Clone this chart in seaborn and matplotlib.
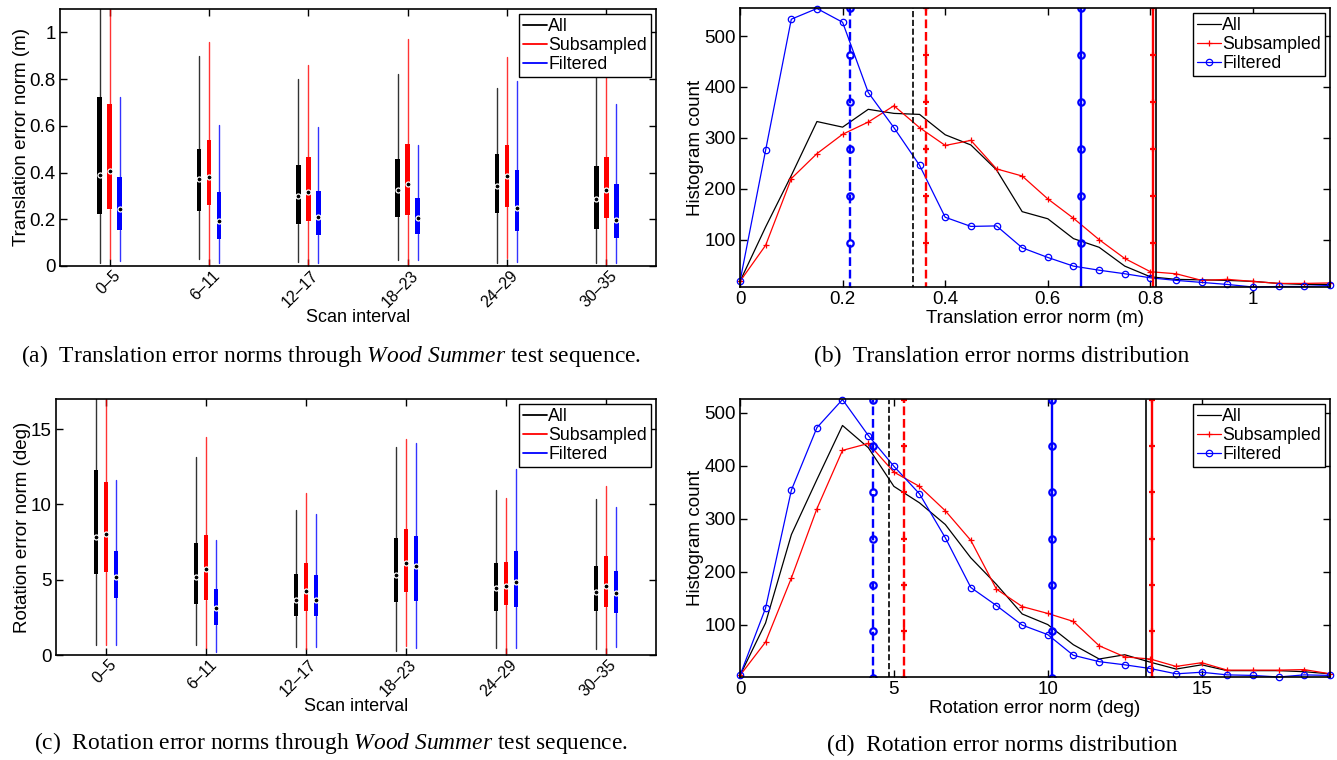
import numpy as np
import pandas as pd
import seaborn as sns
import matplotlib.pyplot as plt
from matplotlib.lines import Line2D
from matplotlib.transforms import ScaledTranslation

# categories
intervals = ['0–5', '6–11', '12–17', '18–23', '24–29', '30–35']
series = ['All', 'Subsampled', 'Filtered']
colors = {'All': '#000000', 'Subsampled': '#ff0000', 'Filtered': '#0000ff'}

# (a) translation error box stats: low whisker, q1, median, q3, high whisker
trans_all_lo = [0.012, 0.031, 0.019, 0.026, 0.011, 0.011]
trans_all_q1 = [0.222, 0.234, 0.180, 0.211, 0.228, 0.157]
trans_all_med = [0.390, 0.374, 0.300, 0.326, 0.344, 0.286]
trans_all_q3 = [0.723, 0.501, 0.433, 0.457, 0.480, 0.429]
trans_all_hi = [1.25, 0.897, 0.800, 0.820, 0.761, 0.860]

trans_sub_lo = [0.031, 0.003, 0.003, 0.003, 0.033, 0.003]
trans_sub_q1 = [0.243, 0.261, 0.194, 0.219, 0.254, 0.207]
trans_sub_med = [0.406, 0.380, 0.317, 0.353, 0.387, 0.324]
trans_sub_q3 = [0.693, 0.540, 0.466, 0.522, 0.517, 0.467]
trans_sub_hi = [1.25, 0.957, 0.860, 0.971, 0.894, 0.930]

trans_fil_lo = [0.023, 0.014, 0.012, 0.026, 0.019, 0.014]
trans_fil_q1 = [0.154, 0.117, 0.133, 0.136, 0.149, 0.119]
trans_fil_med = [0.244, 0.194, 0.210, 0.206, 0.249, 0.197]
trans_fil_q3 = [0.381, 0.317, 0.320, 0.290, 0.409, 0.349]
trans_fil_hi = [0.723, 0.604, 0.596, 0.519, 0.793, 0.693]

# (c) rotation error box stats
rot_all_lo = [0.66, 0.66, 0.51, 0.29, 0.48, 0.37]
rot_all_q1 = [5.41, 3.41, 2.57, 3.50, 2.95, 2.93]
rot_all_med = [7.85, 5.15, 3.63, 5.32, 4.44, 4.16]
rot_all_q3 = [12.27, 7.44, 5.41, 7.74, 6.14, 5.94]
rot_all_hi = [19.0, 13.15, 9.63, 13.79, 10.93, 10.38]

rot_sub_lo = [0.66, 0.44, 0.40, 0.59, 0.05, 0.05]
rot_sub_q1 = [5.50, 3.67, 2.95, 4.18, 3.32, 3.19]
rot_sub_med = [8.03, 5.72, 4.22, 6.09, 4.58, 4.55]
rot_sub_q3 = [11.50, 7.99, 6.09, 8.38, 6.20, 6.56]
rot_sub_hi = [19.0, 14.45, 10.76, 14.36, 10.40, 11.20]

rot_fil_lo = [0.66, 0.22, 0.51, 0.44, 0.48, 0.55]
rot_fil_q1 = [3.78, 2.02, 2.57, 3.59, 3.19, 2.79]
rot_fil_med = [5.19, 3.10, 3.63, 5.92, 4.88, 4.14]
rot_fil_q3 = [6.91, 4.36, 5.28, 7.88, 6.91, 5.61]
rot_fil_hi = [11.59, 7.66, 9.35, 14.06, 12.38, 9.83]

# (b) translation error histogram (bin centres in m)
trans_bins = [0.0, 0.05, 0.1, 0.15, 0.2, 0.25, 0.3, 0.35, 0.4, 0.45, 0.5, 0.55,
              0.6, 0.65, 0.7, 0.75, 0.8, 0.85, 0.9, 0.95, 1.0, 1.05, 1.1, 1.15]
trans_hist_all = [18, 125, 226, 332, 321, 356, 348, 346, 306, 286, 237, 155,
                  141, 102, 85, 48, 27, 22, 21, 20, 18, 14, 12, 12]
trans_hist_sub = [18, 89, 220, 269, 307, 331, 363, 320, 285, 295, 239, 225,
                  180, 142, 100, 63, 37, 33, 20, 22, 18, 14, 14, 15]
trans_hist_fil = [18, 276, 533, 554, 527, 389, 320, 246, 144, 126, 127, 84,
                  65, 48, 40, 33, 25, 20, 16, 12, 7, 8, 8, 10]
# mean (dashed) and 95th percentile (solid) markers
trans_mean = {'All': 0.338, 'Subsampled': 0.362, 'Filtered': 0.2146}
trans_p95 = {'All': 0.811, 'Subsampled': 0.805, 'Filtered': 0.665}
trans_vmark_y = [0, 92.5, 185, 277.5, 370, 462.5, 555]

# (d) rotation error histogram (bin centres in deg)
rot_bins = [0.0, 0.83, 1.67, 2.50, 3.33, 4.17, 5.00, 5.83, 6.67, 7.50, 8.33, 9.17,
            10.0, 10.83, 11.67, 12.50, 13.33, 14.17, 15.0, 15.83, 16.67, 17.50, 18.33, 19.17]
rot_hist_all = [4, 103, 270, 374, 476, 434, 361, 330, 289, 226, 176, 120,
                100, 62, 35, 43, 29, 16, 24, 13, 13, 13, 11, 7]
rot_hist_sub = [4, 67, 188, 319, 429, 442, 388, 361, 315, 259, 167, 134,
                121, 106, 60, 39, 35, 21, 28, 14, 14, 14, 15, 7]
rot_hist_fil = [4, 131, 354, 472, 525, 457, 399, 347, 264, 170, 136, 99,
                81, 42, 30, 24, 17, 7, 10, 5, 4, 1, 5, 4]
rot_mean = {'All': 4.85, 'Subsampled': 5.32, 'Filtered': 4.31}
rot_p95 = {'All': 13.18, 'Subsampled': 13.40, 'Filtered': 10.15}
rot_vmark_y = [0, 87.5, 175, 262.5, 350, 437.5, 525]

sns.set_style('ticks')
plt.rcParams['font.family'] = ['Liberation Sans', 'DejaVu Sans']
plt.rcParams['mathtext.fontset'] = 'custom'
plt.rcParams['mathtext.rm'] = 'Liberation Serif'
plt.rcParams['mathtext.it'] = 'Liberation Serif:italic'
for k in ['text.color', 'axes.labelcolor', 'xtick.color', 'ytick.color', 'axes.edgecolor']:
    plt.rcParams[k] = 'black'
plt.rcParams['axes.linewidth'] = 1.2

TICK_FS = 13.5
LABEL_FS = 13.5
LEG_FS = 12.8
markers = {'All': None, 'Subsampled': '+', 'Filtered': 'o'}


def style_axes(ax):
    ax.tick_params(direction='in', top=True, right=True, length=5, width=1,
                   labelsize=TICK_FS, pad=3)
    for s in ax.spines.values():
        s.set_visible(True)


def make_legend(ax, handles):
    leg = ax.legend(handles=handles, labels=series, loc='upper right', fontsize=LEG_FS,
                    fancybox=False, framealpha=1, edgecolor='black', borderpad=0.2,
                    labelspacing=0.12, handlelength=1.35, handletextpad=0.1,
                    borderaxespad=0.3)
    leg.get_frame().set_linewidth(1.0)
    leg.set_zorder(10)


def box_panel(ax, stats, ylim, yticks, ylabel):
    offsets = [-0.1, 0.0, 0.1]
    for k, name in enumerate(series):
        lo, q1, med, q3, hi = stats[name]
        c = colors[name]
        bstats = [dict(whislo=lo[i], q1=q1[i], med=med[i], q3=q3[i], whishi=hi[i],
                       mean=med[i], fliers=[]) for i in range(len(intervals))]
        ax.bxp(bstats, positions=np.arange(len(intervals)) + offsets[k], widths=0.045,
               patch_artist=True, showcaps=False, showfliers=False, showmeans=True,
               boxprops=dict(facecolor=c, edgecolor=c, linewidth=0),
               whiskerprops=dict(color=c, linewidth=1.0, alpha=0.8),
               medianprops=dict(linewidth=0),
               meanprops=dict(marker='o', markersize=3.6, markerfacecolor='k',
                              markeredgecolor='w', markeredgewidth=0.9),
               manage_ticks=False)
    ax.set_xlim(-0.5, len(intervals) - 0.5)
    ax.set_ylim(*ylim)
    ax.set_yticks(yticks)
    ax.set_yticklabels(['%g' % t for t in yticks])
    ax.set_xticks(np.arange(len(intervals)))
    ax.set_xticklabels(intervals, rotation=45, ha='right', va='center',
                       rotation_mode='anchor', fontsize=11.5)
    ax.tick_params(axis='x', pad=5)
    shift = ScaledTranslation(8 / 100, 0, fig.dpi_scale_trans)
    for lab in ax.get_xticklabels():
        lab.set_transform(lab.get_transform() + shift)
    ax.set_xlabel('Scan interval', fontsize=13)
    ax.xaxis.set_label_coords(0.5, -0.168)
    ax.set_ylabel(ylabel, fontsize=LABEL_FS, labelpad=0)
    make_legend(ax, [Line2D([], [], color=colors[n], lw=1.3) for n in series])


def hist_panel(ax, bins, hists, means, p95s, vmark_y, xlim, ylim, xticks, xlabel):
    handles = []
    for name in series:
        c = colors[name]
        kw = dict(lw=0.9, color=c, clip_on=False)
        if markers[name] is not None:
            kw.update(marker=markers[name], markersize=5 if markers[name] == '+' else 4.6,
                      mec=c, mfc='none', mew=0.9)
        sns.lineplot(x=bins, y=hists[name], ax=ax, label=name, legend=False, **kw)
        handles.append(ax.lines[-1])
    for name in series:
        c = colors[name]
        lw = 1.2 if name == 'All' else 1.7
        for xv, ls in [(means[name], '--'), (p95s[name], '-')]:
            if markers[name] is None:
                ax.plot([xv] * len(vmark_y), vmark_y, color=c, ls=ls, lw=lw)
            else:
                ax.plot([xv] * len(vmark_y), vmark_y, color=c, ls=ls, lw=lw,
                        marker=markers[name], markersize=5 if markers[name] == '+' else 4.6,
                        mfc='none', mec=c, mew=1.6)
    ax.set_xlim(*xlim)
    ax.set_ylim(*ylim)
    ax.set_xticks(xticks)
    ax.set_xticklabels(['%g' % t for t in xticks])
    ax.set_yticks([100, 200, 300, 400, 500])
    ax.set_xlabel(xlabel, fontsize=LABEL_FS, labelpad=1)
    ax.set_ylabel('Histogram count', fontsize=LABEL_FS, labelpad=0)
    make_legend(ax, handles)


fig = plt.figure(figsize=(13.37, 7.6), dpi=100)
ax_a = fig.add_axes([60 / 1337, 1 - 266 / 760, 596 / 1337, 257 / 760])
ax_b = fig.add_axes([740 / 1337, 1 - 287 / 760, 590 / 1337, 279 / 760])
ax_c = fig.add_axes([56 / 1337, 1 - 655 / 760, 600 / 1337, 256 / 760])
ax_d = fig.add_axes([740 / 1337, 1 - 677 / 760, 590 / 1337, 278 / 760])
for ax in [ax_a, ax_b, ax_c, ax_d]:
    style_axes(ax)

trans_stats = {
    'All': [trans_all_lo, trans_all_q1, trans_all_med, trans_all_q3, trans_all_hi],
    'Subsampled': [trans_sub_lo, trans_sub_q1, trans_sub_med, trans_sub_q3, trans_sub_hi],
    'Filtered': [trans_fil_lo, trans_fil_q1, trans_fil_med, trans_fil_q3, trans_fil_hi],
}
rot_stats = {
    'All': [rot_all_lo, rot_all_q1, rot_all_med, rot_all_q3, rot_all_hi],
    'Subsampled': [rot_sub_lo, rot_sub_q1, rot_sub_med, rot_sub_q3, rot_sub_hi],
    'Filtered': [rot_fil_lo, rot_fil_q1, rot_fil_med, rot_fil_q3, rot_fil_hi],
}
box_panel(ax_a, trans_stats, (0, 1.1), [0, 0.2, 0.4, 0.6, 0.8, 1.0], 'Translation error norm (m)')
box_panel(ax_c, rot_stats, (0, 17), [0, 5, 10, 15], 'Rotation error norm (deg)')

hist_panel(ax_b, trans_bins,
           {'All': trans_hist_all, 'Subsampled': trans_hist_sub, 'Filtered': trans_hist_fil},
           trans_mean, trans_p95, trans_vmark_y, (0, 1.15), (7, 555),
           [0, 0.2, 0.4, 0.6, 0.8, 1.0], 'Translation error norm (m)')
hist_panel(ax_d, rot_bins,
           {'All': rot_hist_all, 'Subsampled': rot_hist_sub, 'Filtered': rot_hist_fil},
           rot_mean, rot_p95, rot_vmark_y, (0, 19.17), (1, 526),
           [0, 5, 10, 15], 'Rotation error norm (deg)')

cap_kw = dict(ha='center', va='center', fontsize=16.9, family='Liberation Serif')
fig.text(331 / 1337, 1 - 356 / 760,
         r'(a)  Translation error norms through $\mathit{Wood\ Summer}$ test sequence.', **cap_kw)
fig.text(1002 / 1337, 1 - 356 / 760, '(b)  Translation error norms distribution', **cap_kw)
fig.text(331 / 1337, 1 - 743 / 760,
         r'(c)  Rotation error norms through $\mathit{Wood\ Summer}$ test sequence.', **cap_kw)
fig.text(1002 / 1337, 1 - 745 / 760, '(d)  Rotation error norms distribution', **cap_kw)

fig.savefig('out.png', dpi=100)
